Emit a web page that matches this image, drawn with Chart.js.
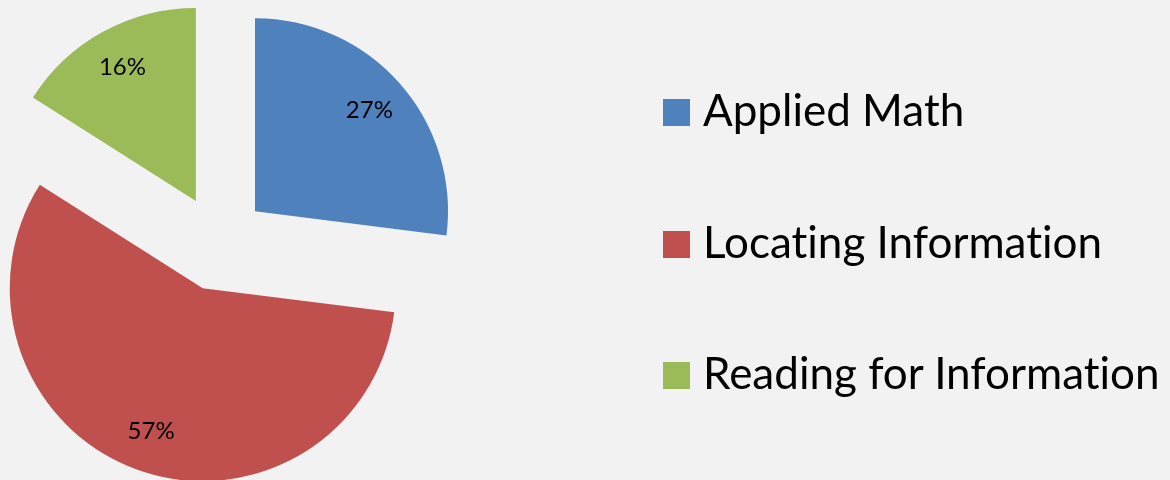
<!DOCTYPE html>
<html lang="en">
<head>
  <meta charset="UTF-8" />
  <title>Skill areas</title>
  <script src="https://cdn.jsdelivr.net/npm/chart.js"></script>
  <style>
    html, body { margin: 0; padding: 0; background: #f2f2f2; }
    #wrap { position: relative; width: 1170px; height: 480px; overflow: hidden; }
    #legend { position: absolute; left: 663px; top: 44px; font-family: Lato, sans-serif; font-size: 44px; color: #000; font-variant-ligatures: none; }
    #legend div { line-height: 131.7px; white-space: nowrap; }
    #legend span { display: inline-block; width: 27px; height: 27px; margin-right: 13px; vertical-align: baseline; }
  </style>
</head>
<body>
  <div id="wrap">
    <canvas id="chart" width="1170" height="480"></canvas>
    <div id="legend"></div>
  </div>
  <script>
    const labels = ['Applied Math', 'Locating Information', 'Reading for Information'];
    const shares = [27, 57, 16];
    const colors = ['#4f81bd', '#c0504d', '#9bbb59'];

    // push each slice out along its middle angle (same distance for all, like Excel's explosion)
    const explode = {
      id: 'explode',
      afterDatasetsUpdate(chart) {
        chart.getDatasetMeta(0).data.forEach(arc => {
          const mid = (arc.startAngle + arc.endAngle) / 2;
          arc.x += Math.cos(mid) * 48;
          arc.y += Math.sin(mid) * 48;
        });
      }
    };

    const pctLabels = {
      id: 'pctLabels',
      afterDatasetsDraw(chart) {
        const ctx = chart.ctx;
        ctx.save();
        ctx.font = '24px Lato, sans-serif';
        ctx.fillStyle = '#000';
        ctx.textAlign = 'center';
        ctx.textBaseline = 'middle';
        chart.getDatasetMeta(0).data.forEach((arc, i) => {
          const mid = (arc.startAngle + arc.endAngle) / 2;
          const r = arc.outerRadius * 0.79;
          ctx.fillText(shares[i] + '%', arc.x + Math.cos(mid) * r, arc.y + Math.sin(mid) * r);
        });
        ctx.restore();
      }
    };

    new Chart(document.getElementById('chart'), {
      type: 'pie',
      data: {
        labels,
        datasets: [{
          data: shares,
          backgroundColor: colors,
          borderWidth: 0,
          radius: 193
        }]
      },
      options: {
        responsive: false,
        animation: false,
        events: [],
        layout: { padding: { left: 0, top: 6, right: 732, bottom: 0 } },
        plugins: {
          legend: { display: false },
          tooltip: { enabled: false }
        }
      },
      plugins: [explode, pctLabels]
    });

    const legend = document.getElementById('legend');
    labels.forEach((name, i) => {
      const row = document.createElement('div');
      const box = document.createElement('span');
      box.style.background = colors[i];
      row.appendChild(box);
      row.appendChild(document.createTextNode(name));
      legend.appendChild(row);
    });
  </script>
</body>
</html>
